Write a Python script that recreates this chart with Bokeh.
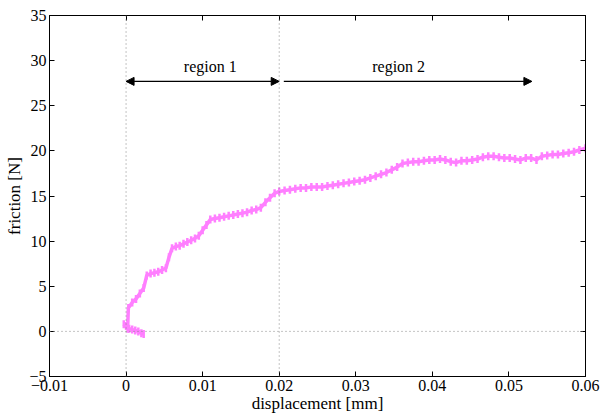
import numpy as np
from bokeh.plotting import figure
from bokeh.models import Span, Arrow, NormalHead, Label, LinearAxis, FixedTicker, Range1d
from bokeh.embed import file_html
from bokeh.resources import INLINE

# lower initial branch (traversed back to origin), then main curve
disp = [0.0023, 0.0020, 0.0016, 0.0012, 0.0008, 0.0004, 0.0000, -0.0003, 0.0002,
        0.0003, 0.0008, 0.0013, 0.0018, 0.0023, 0.0027, 0.0032, 0.0037, 0.0042, 0.0047,
        0.0052, 0.0056, 0.0060, 0.0065, 0.0070, 0.0075, 0.0080, 0.0085, 0.0090, 0.0095,
        0.0100, 0.0105, 0.0110, 0.0116, 0.0122, 0.0128, 0.0134, 0.0140, 0.0146, 0.0152,
        0.0158, 0.0164, 0.0170, 0.0176, 0.0182, 0.0188, 0.0194, 0.0200, 0.0207, 0.0214,
        0.0221, 0.0228, 0.0235, 0.0242, 0.0249, 0.0256, 0.0263, 0.0270, 0.0277, 0.0284,
        0.0291, 0.0298, 0.0305, 0.0312, 0.0319, 0.0326, 0.0333, 0.0340, 0.0347, 0.0354,
        0.0361, 0.0368, 0.0375, 0.0382, 0.0389, 0.0396, 0.0403, 0.0410, 0.0417, 0.0424,
        0.0431, 0.0438, 0.0445, 0.0452, 0.0459, 0.0466, 0.0473, 0.0480, 0.0487, 0.0494,
        0.0501, 0.0508, 0.0515, 0.0522, 0.0529, 0.0536, 0.0543, 0.0550, 0.0557, 0.0564,
        0.0571, 0.0578, 0.0585, 0.0592, 0.0600]
friction = [-0.3, -0.2, 0.0, 0.1, 0.2, 0.3, 0.6, 0.8, 0.3,
            2.6, 3.2, 3.6, 4.2, 4.8, 6.2, 6.4, 6.5, 6.6, 6.8,
            7.0, 8.2, 9.2, 9.4, 9.5, 9.7, 9.9, 10.1, 10.3, 10.6,
            11.2, 11.8, 12.4, 12.5, 12.6, 12.7, 12.8, 12.9, 13.0, 13.1,
            13.2, 13.4, 13.5, 13.7, 14.3, 14.8, 15.3, 15.5, 15.6, 15.7,
            15.8, 15.9, 15.9, 16.0, 16.0, 16.0, 16.1, 16.2, 16.3, 16.4,
            16.5, 16.6, 16.7, 16.8, 17.0, 17.2, 17.4, 17.6, 17.9, 18.2,
            18.6, 18.7, 18.8, 18.8, 18.9, 19.0, 19.0, 19.1, 19.0, 18.8,
            18.7, 18.9, 18.9, 19.0, 19.1, 19.3, 19.4, 19.4, 19.3, 19.2,
            19.2, 19.1, 19.0, 19.2, 19.2, 19.0, 19.4, 19.5, 19.6, 19.6,
            19.7, 19.8, 19.9, 20.1, 20.3]

x_ticks = [-0.01, 0, 0.01, 0.02, 0.03, 0.04, 0.05, 0.06]
y_ticks = [-5, 0, 5, 10, 15, 20, 25, 30, 35]
region_bounds = [0.0, 0.02]
region2_end = 0.053
arrow_y = 27.7
region_labels = ["region 1", "region 2"]
label_x = [0.011, 0.0356]
label_y = 28.4

FONT = "Liberation Serif"
MAG = "#FF7FFF"

p = figure(width=600, height=415, output_backend="svg", toolbar_location=None,
           x_range=Range1d(-0.01, 0.06), y_range=Range1d(-5, 35),
           min_border_left=49, min_border_right=15, min_border_top=15, min_border_bottom=38)
p.xgrid.visible = False
p.ygrid.visible = False
p.outline_line_color = "black"
p.outline_line_width = 1
p.background_fill_color = "white"
p.border_fill_color = "white"

for ax in (p.xaxis[0], p.yaxis[0]):
    ax.major_tick_in = 5
    ax.major_tick_out = 0
    ax.minor_tick_in = 0
    ax.minor_tick_out = 0
    ax.axis_line_color = "black"
    ax.major_label_text_font = FONT
    ax.major_label_text_font_size = "16px"
    ax.major_label_text_color = "black"
    ax.axis_label_text_font = FONT
    ax.axis_label_text_font_size = "17px"
    ax.axis_label_text_font_style = "normal"
    ax.axis_label_text_color = "black"

p.xaxis[0].ticker = FixedTicker(ticks=x_ticks)
p.yaxis[0].ticker = FixedTicker(ticks=y_ticks)
p.xaxis[0].major_label_overrides = {-0.01: "\u22120.01", 0: "0"}
p.yaxis[0].major_label_overrides = {-5: "\u22125"}
p.xaxis[0].axis_label = "displacement [mm]"
p.yaxis[0].axis_label = "friction [N]"
p.xaxis[0].major_label_standoff = 3
p.xaxis[0].axis_label_standoff = 0
p.yaxis[0].major_label_standoff = 3
p.yaxis[0].axis_label_standoff = 2

top = LinearAxis(ticker=FixedTicker(ticks=x_ticks), major_tick_in=5, major_tick_out=0,
                 minor_tick_in=0, minor_tick_out=0, major_label_text_font_size="0px",
                 major_label_standoff=0)
right = LinearAxis(ticker=FixedTicker(ticks=y_ticks), major_tick_in=5, major_tick_out=0,
                   minor_tick_in=0, minor_tick_out=0, major_label_text_font_size="0px",
                   major_label_standoff=0)
p.add_layout(top, "above")
p.add_layout(right, "right")

dot = dict(line_color="#888888", line_dash="1 3", line_width=1)
p.add_layout(Span(location=0, dimension="width", **dot))
for b in region_bounds:
    p.add_layout(Span(location=b, dimension="height", **dot))

p.line(disp, friction, line_color=MAG, line_width=3.5)
p.scatter(disp, friction, marker="dash", angle=np.pi / 2, size=8,
          line_color=MAG, line_width=2.5)

p.add_layout(Arrow(x_start=region_bounds[0], y_start=arrow_y, x_end=region_bounds[1], y_end=arrow_y,
                   start=NormalHead(size=8, fill_color="black", line_color="black"),
                   end=NormalHead(size=8, fill_color="black", line_color="black"),
                   line_color="black", line_width=1.2))
p.add_layout(Arrow(x_start=region_bounds[1] + 0.0006, y_start=arrow_y, x_end=region2_end, y_end=arrow_y,
                   end=NormalHead(size=8, fill_color="black", line_color="black"),
                   line_color="black", line_width=1.2))
for t, lx in zip(region_labels, label_x):
    p.add_layout(Label(x=lx, y=label_y, text=t, text_font=FONT, text_font_size="16px",
                       text_align="center", text_baseline="bottom", text_color="black"))

open("out.html", "w").write(file_html(p, INLINE))
